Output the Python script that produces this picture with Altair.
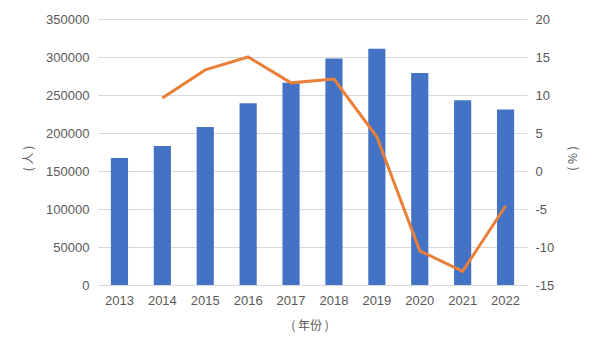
import altair as alt
import pandas as pd

years = ["2013", "2014", "2015", "2016", "2017", "2018", "2019", "2020", "2021", "2022"]
people = [167000, 183000, 208000, 239000, 266000, 298000, 311000, 279000, 243000, 231000]
growth = [None, 9.6, 13.3, 15.0, 11.6, 12.1, 4.5, -10.5, -13.2, -4.6]

left_ticks = [0, 50000, 100000, 150000, 200000, 250000, 300000, 350000]
right_ticks = [-15, -10, -5, 0, 5, 10, 15, 20]

df = pd.DataFrame({"year": years, "people": people, "growth": growth})

W, H = 429, 266
gray = "#595959"

base = alt.Chart(df).encode(
    x=alt.X(
        "year:N",
        sort=years,
        scale=alt.Scale(paddingInner=0.6, paddingOuter=0.3),
        axis=alt.Axis(
            title="( 年份 )",
            labelAngle=0,
            labelPadding=9,
            titleX=W / 2 - 3,
            titleY=40,
            titleAlign="center",
            titleBaseline="middle",
            domain=True,
            domainColor="#d9d9d9",
        ),
    )
)

bars = base.mark_bar(color="#4472C4").encode(
    y=alt.Y(
        "people:Q",
        scale=alt.Scale(domain=[0, 350000], nice=False, zero=True),
        axis=alt.Axis(
            orient="left",
            values=left_ticks,
            title="( 人 )",
            titleAngle=270,
            titleX=-70,
            titleY=H / 2 + 6,
            titleAlign="center",
            titleBaseline="middle",
            labelPadding=9,
            grid=True,
            format="d",
        ),
    )
)

line = base.transform_filter("datum.growth != null").mark_line(
    color="#E8803A", strokeWidth=3
).encode(
    y=alt.Y(
        "growth:Q",
        scale=alt.Scale(domain=[-15, 20], nice=False, zero=False),
        axis=alt.Axis(
            orient="right",
            values=right_ticks,
            labelExpr="'' + datum.value",
            title="( % )",
            titleAngle=270,
            titleX=45,
            titleY=H / 2 + 6,
            titleAlign="center",
            titleBaseline="middle",
            labelPadding=8,
            grid=False,
        ),
    )
)

chart = (
    alt.layer(bars, line)
    .resolve_scale(y="independent")
    .properties(
        width=W,
        height=H,
        autosize=alt.AutoSizeParams(type="none"),
        padding={"left": 90, "top": 11, "right": 65, "bottom": 63},
        background="white",
    )
    .configure_view(stroke=None)
    .configure_axis(
        domain=False,
        ticks=False,
        labelColor=gray,
        labelFont="Liberation Sans",
        labelFontSize=13,
        titleColor=gray,
        titleFont="Noto Sans CJK SC",
        titleFontSize=12,
        titleFontWeight="normal",
        gridColor="#d9d9d9",
        gridWidth=1,
    )
)

chart.save("out.html", embed_options={"renderer": "svg", "actions": False})
